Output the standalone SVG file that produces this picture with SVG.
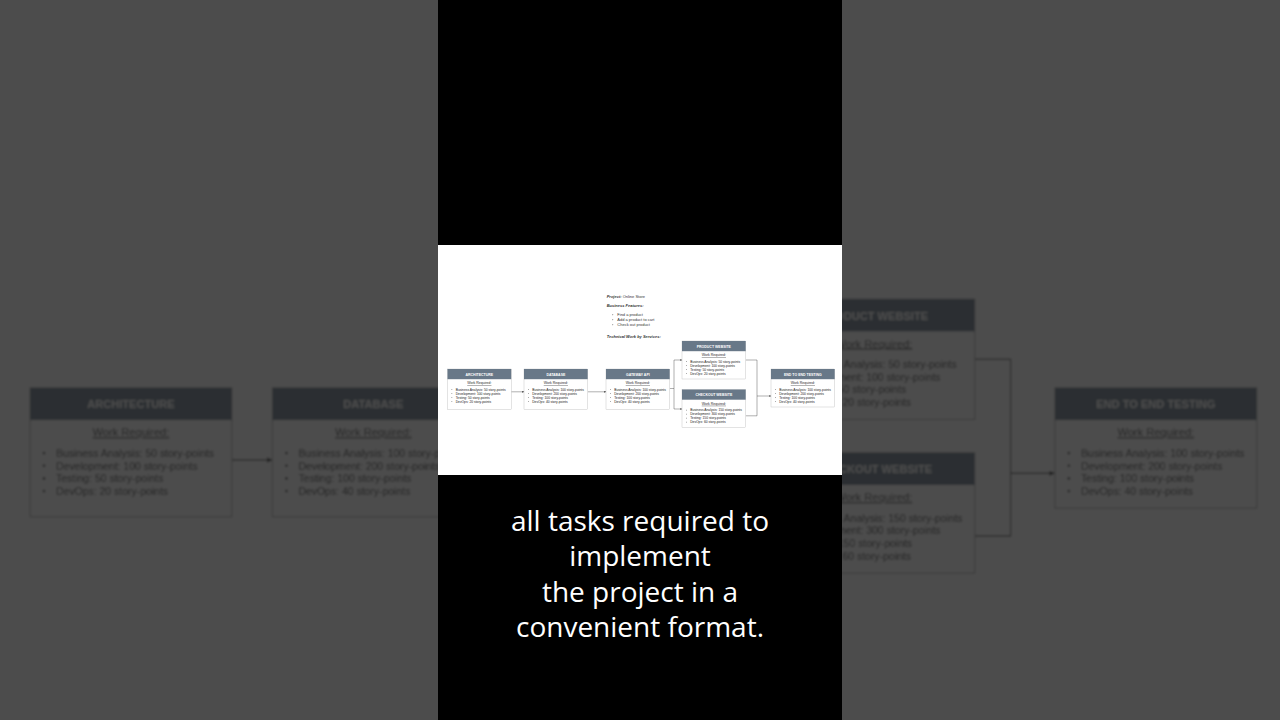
<svg xmlns="http://www.w3.org/2000/svg" xmlns:xlink="http://www.w3.org/1999/xlink" width="1280" height="720" viewBox="0 0 1280 720">
<style>
.body{fill:#ffffff;stroke:#b0b0b0;stroke-width:0.35}
.head{fill:#687888}
.hd{font-family:"Liberation Sans",Arial,sans-serif;font-weight:bold;font-size:3.5px;fill:#ffffff;text-anchor:middle}
.wr{font-family:"Liberation Sans",Arial,sans-serif;font-size:3.5px;fill:#2a2a2a;text-anchor:middle;text-decoration:underline}
.bl{font-family:"Liberation Sans",Arial,sans-serif;font-size:3.3px;fill:#1a1a1a}
.dot{fill:#1a1a1a}
.tt{font-family:"Liberation Sans",Arial,sans-serif;font-size:4px;fill:#333333}
.bi{font-weight:bold;font-style:italic}
.conn{fill:none;stroke:#1a1a1a;stroke-width:0.35}
.sub{font-family:"Open Sans","Noto Sans",sans-serif;font-size:28px;fill:#ffffff;text-anchor:middle}
</style>
<defs>
<marker id="arrow" viewBox="0 0 10 10" refX="10" refY="5" markerWidth="2" markerHeight="1.7" markerUnits="userSpaceOnUse" orient="auto">
<path d="M0,0 L10,5 L0,10 z" fill="#1a1a1a"/>
</marker>
<filter id="soft" x="-5%" y="-5%" width="110%" height="110%">
<feGaussianBlur stdDeviation="0.9"/>
</filter>
</defs>

<rect x="0" y="0" width="1280" height="720" fill="#ffffff"/>
<g filter="url(#soft)">
<use xlink:href="#panel" href="#panel" transform="matrix(3.168 0 0 3.168 -1387.6 -781.2)"/>
</g>
<rect x="0" y="0" width="1280" height="720" fill="#1a1a1a" opacity="0.78"/>
<rect x="438" y="0" width="404" height="720" fill="#000000"/>

<g id="panel">
<rect x="438" y="245" width="404" height="230" fill="#ffffff"/>

<g id="intro">
<text class="tt" x="606.7" y="297.7"><tspan class="bi">Project:</tspan> Online Store</text>
<text class="tt bi" x="606.7" y="307.1">Business Features:</text>
<circle class="dot" cx="612.8" cy="314.7" r="0.45"/>
<circle class="dot" cx="612.8" cy="319.7" r="0.45"/>
<circle class="dot" cx="612.8" cy="324.7" r="0.45"/>
<text class="tt" x="617.3" y="316.1">Find a product</text>
<text class="tt" x="617.3" y="321.1">Add a product to cart</text>
<text class="tt" x="617.3" y="326.1">Check out product</text>
<text class="tt bi" x="606.7" y="338.1">Technical Work by Services:</text>
</g>

<g id="connectors">
<path class="conn" d="M511.2 391.8 H524" marker-end="url(#arrow)"/>
<path class="conn" d="M587.7 391.8 H606" marker-end="url(#arrow)"/>
<path class="conn" d="M669.7 388.5 H674 V360 H682" marker-end="url(#arrow)"/>
<path class="conn" d="M674 388.5 V409 H682" marker-end="url(#arrow)"/>
<path class="conn" d="M745.7 360 H757 V415.8 H745.7"/>
<path class="conn" d="M757 396 H771" marker-end="url(#arrow)"/>
</g>

<g id="architecture">
<rect class="body" x="447.5" y="369" width="63.7" height="40.7"/>
<rect class="head" x="447.5" y="369" width="63.7" height="10.2"/>
<text class="hd" x="479.35" y="375.5">ARCHITECTURE</text>
<text class="wr" x="479.35" y="384.3">Work Required:</text>
<circle class="dot" cx="451.9" cy="389.6" r="0.42"/>
<circle class="dot" cx="451.9" cy="393.6" r="0.42"/>
<circle class="dot" cx="451.9" cy="397.6" r="0.42"/>
<circle class="dot" cx="451.9" cy="401.6" r="0.42"/>
<text class="bl" x="455.7" y="390.8">Business Analysis: 50 story-points</text>
<text class="bl" x="455.7" y="394.8">Development: 100 story-points</text>
<text class="bl" x="455.7" y="398.8">Testing: 50 story-points</text>
<text class="bl" x="455.7" y="402.8">DevOps: 20 story-points</text>
</g>

<g id="database">
<rect class="body" x="524" y="369" width="63.7" height="40.7"/>
<rect class="head" x="524" y="369" width="63.7" height="10.2"/>
<text class="hd" x="555.85" y="375.5">DATABASE</text>
<text class="wr" x="555.85" y="384.3">Work Required:</text>
<circle class="dot" cx="528.4" cy="389.6" r="0.42"/>
<circle class="dot" cx="528.4" cy="393.6" r="0.42"/>
<circle class="dot" cx="528.4" cy="397.6" r="0.42"/>
<circle class="dot" cx="528.4" cy="401.6" r="0.42"/>
<text class="bl" x="532.2" y="390.8">Business Analysis: 100 story-points</text>
<text class="bl" x="532.2" y="394.8">Development: 200 story-points</text>
<text class="bl" x="532.2" y="398.8">Testing: 100 story-points</text>
<text class="bl" x="532.2" y="402.8">DevOps: 40 story-points</text>
</g>

<g id="gateway-api">
<rect class="body" x="606" y="369" width="63.7" height="40.7"/>
<rect class="head" x="606" y="369" width="63.7" height="10.2"/>
<text class="hd" x="637.85" y="375.5">GATEWAY API</text>
<text class="wr" x="637.85" y="384.3">Work Required:</text>
<circle class="dot" cx="610.4" cy="389.6" r="0.42"/>
<circle class="dot" cx="610.4" cy="393.6" r="0.42"/>
<circle class="dot" cx="610.4" cy="397.6" r="0.42"/>
<circle class="dot" cx="610.4" cy="401.6" r="0.42"/>
<text class="bl" x="614.2" y="390.8">Business Analysis: 100 story-points</text>
<text class="bl" x="614.2" y="394.8">Development: 200 story-points</text>
<text class="bl" x="614.2" y="398.8">Testing: 100 story-points</text>
<text class="bl" x="614.2" y="402.8">DevOps: 40 story-points</text>
</g>

<g id="product-website">
<rect class="body" x="682" y="341" width="63.7" height="38"/>
<rect class="head" x="682" y="341" width="63.7" height="10.2"/>
<text class="hd" x="713.85" y="347.5">PRODUCT WEBSITE</text>
<text class="wr" x="713.85" y="356.3">Work Required:</text>
<circle class="dot" cx="686.4" cy="361.6" r="0.42"/>
<circle class="dot" cx="686.4" cy="365.6" r="0.42"/>
<circle class="dot" cx="686.4" cy="369.6" r="0.42"/>
<circle class="dot" cx="686.4" cy="373.6" r="0.42"/>
<text class="bl" x="690.2" y="362.8">Business Analysis: 50 story-points</text>
<text class="bl" x="690.2" y="366.8">Development: 100 story-points</text>
<text class="bl" x="690.2" y="370.8">Testing: 50 story-points</text>
<text class="bl" x="690.2" y="374.8">DevOps: 20 story-points</text>
</g>

<g id="checkout-website">
<rect class="body" x="682" y="389.5" width="63.7" height="38"/>
<rect class="head" x="682" y="389.5" width="63.7" height="10.2"/>
<text class="hd" x="713.85" y="396">CHECKOUT WEBSITE</text>
<text class="wr" x="713.85" y="404.8">Work Required:</text>
<circle class="dot" cx="686.4" cy="410.1" r="0.42"/>
<circle class="dot" cx="686.4" cy="414.1" r="0.42"/>
<circle class="dot" cx="686.4" cy="418.1" r="0.42"/>
<circle class="dot" cx="686.4" cy="422.1" r="0.42"/>
<text class="bl" x="690.2" y="411.3">Business Analysis: 150 story-points</text>
<text class="bl" x="690.2" y="415.3">Development: 300 story-points</text>
<text class="bl" x="690.2" y="419.3">Testing: 150 story-points</text>
<text class="bl" x="690.2" y="423.3">DevOps: 60 story-points</text>
</g>

<g id="end-to-end-testing">
<rect class="body" x="771" y="369" width="63.7" height="38"/>
<rect class="head" x="771" y="369" width="63.7" height="10.2"/>
<text class="hd" x="802.85" y="375.5">END TO END TESTING</text>
<text class="wr" x="802.85" y="384.3">Work Required:</text>
<circle class="dot" cx="775.4" cy="389.6" r="0.42"/>
<circle class="dot" cx="775.4" cy="393.6" r="0.42"/>
<circle class="dot" cx="775.4" cy="397.6" r="0.42"/>
<circle class="dot" cx="775.4" cy="401.6" r="0.42"/>
<text class="bl" x="779.2" y="390.8">Business Analysis: 100 story-points</text>
<text class="bl" x="779.2" y="394.8">Development: 200 story-points</text>
<text class="bl" x="779.2" y="398.8">Testing: 100 story-points</text>
<text class="bl" x="779.2" y="402.8">DevOps: 40 story-points</text>
</g>
</g>

<g id="subtitle">
<text class="sub" x="640" y="530.5">all tasks required to</text>
<text class="sub" x="640" y="566">implement</text>
<text class="sub" x="640" y="601.5">the project in a</text>
<text class="sub" x="640" y="637">convenient format.</text>
</g>
</svg>
